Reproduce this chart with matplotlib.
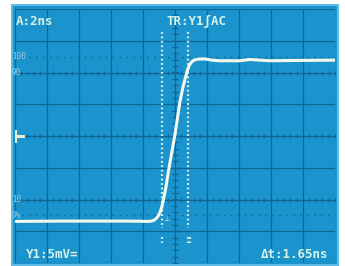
import numpy as np
import matplotlib.pyplot as plt
from matplotlib.patches import Rectangle

# scope screen colours
screen_blue = '#1b93cd'
edge_blue = '#5cbce6'
grid_blue = '#0f6593'
ink = '#d4f2e8'

# trace, in divisions (x: 0..10, y: -4..4)
trace_x = [0.0, 1.42, 2.66, 3.60, 4.16, 4.28, 4.36, 4.44, 4.50, 4.55, 4.60, 4.64,
           4.72, 4.81, 4.91, 5.00, 5.09, 5.16, 5.25, 5.33, 5.40, 5.45, 5.50,
           5.56, 5.63, 5.72, 5.93, 6.15, 6.40, 7.03, 7.34, 7.96, 8.89, 10.0]
trace_y = [-2.69, -2.68, -2.68, -2.68, -2.69, -2.68, -2.65, -2.58, -2.49, -2.38,
           -2.22, -2.04, -1.64, -1.07, -0.50, 0.0, 0.60, 1.07, 1.51, 1.83, 2.08,
           2.22, 2.30, 2.36, 2.40, 2.42, 2.43, 2.39, 2.37, 2.37, 2.41, 2.37,
           2.38, 2.39]

cursor_x = [4.60, 5.42]
level_labels = ['100', '90', '10', '0%']
level_y = [2.5, 2.0, -2.0, -2.5]

W, H = 345, 266
fig = plt.figure(figsize=(W / 100, H / 100), dpi=100)
fig.patch.set_facecolor('white')

# screen area
fig.add_artist(Rectangle((12 / W, 1 - 265 / H), 326 / W, 260 / H, transform=fig.transFigure,
                         facecolor=screen_blue, edgecolor=edge_blue, lw=1.5, zorder=-5))

ax = fig.add_axes([14.5 / W, 3 / H, 320.5 / W, 254 / H])
ax.set_xlim(0, 10)
ax.set_ylim(-4, 4)
ax.axis('off')
ax.patch.set_alpha(0)

# graticule
for i in range(11):
    ax.axvline(i, color=grid_blue, lw=0.9, zorder=1)
for j in range(-4, 5):
    ax.axhline(j, color=grid_blue, lw=0.9, zorder=1)

# minor ticks on centre lines and 10/90 lines
tx = np.arange(0, 10.01, 0.2)
for yy in [0, 2, -2]:
    ax.plot(tx, np.full_like(tx, yy), ls='none', marker='|', ms=3.5, mew=0.9, color=grid_blue, zorder=1)
ty = np.arange(-4, 4.01, 0.2)
ax.plot(np.full_like(ty, 5), ty, ls='none', marker='_', ms=4.5, mew=0.9, color=grid_blue, zorder=1)

# 0% / 100% dotted levels
for yy in [2.5, -2.5]:
    ax.axhline(yy, color=grid_blue, lw=1, ls=(0, (1, 4)), zorder=1)

# level labels
for lab, yy in zip(level_labels, level_y):
    ax.text(-0.08, yy, lab, fontsize=5.5, color='#9fcfdf', ha='left', va='center',
            family='DejaVu Sans Mono', zorder=3)

# cursors
for k, cx in enumerate(cursor_x):
    ax.plot([cx, cx], [3.28, -2.9], color=ink, lw=1.6, ls=(0, (0.8, 1.2)), zorder=2)
    ax.plot([cx, cx], [-3.18, -3.37], color=ink, lw=1.6, ls=(0, (0.8, 1.2)), zorder=2)
ax.plot([cursor_x[1] + 0.07] * 2, [-3.18, -3.37], color=ink, lw=1.6, ls=(0, (0.8, 1.2)), zorder=2)

# ground marker and trigger marker
ax.plot([0.02, 0.02], [-0.17, 0.17], color='#e4eed6', lw=2.2, zorder=3)
ax.plot([0.02, 0.25], [0, 0], color='#e4eed6', lw=2.2, zorder=3)
ax.text(4.75, -2.62, '\u22a5', fontsize=5, color=ink, ha='center', va='center', zorder=3)

# trace
ax.plot(trace_x, trace_y, color='#f3f8ee', lw=2.2, solid_capstyle='round',
        solid_joinstyle='round', zorder=4)

# readouts
txt = dict(family='DejaVu Sans Mono', fontsize=9, fontweight='bold', color=ink, zorder=5)
ax.text(0.05, 3.6, 'A:2ns', ha='left', va='center', **txt)
ax.text(4.75, 3.6, 'TR:Y1\u0283AC', ha='left', va='center', **txt)
ax.text(0.35, -3.74, 'Y1:5mV=', ha='left', va='center', **txt)
ax.text(9.8, -3.74, '\u0394t:1.65ns', ha='right', va='center', **txt)

fig.savefig('out.png', dpi=100)
